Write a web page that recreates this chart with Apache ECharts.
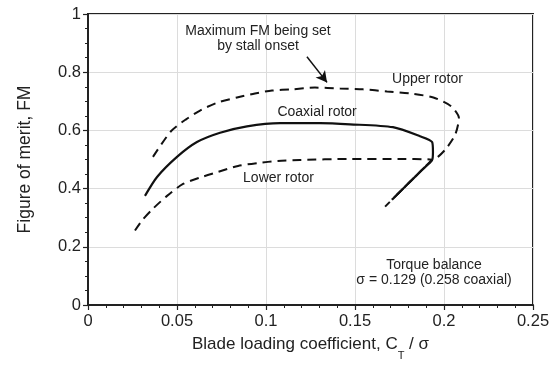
<!DOCTYPE html>
<html><head><meta charset="utf-8">
<script src="https://cdn.jsdelivr.net/npm/echarts@6/dist/echarts.min.js"></script>
<style>html,body{margin:0;padding:0;background:#fff}#c{width:558px;height:366px}</style>
</head><body><div id="c"></div>
<script>
var xTicks = [0, 0.05, 0.1, 0.15, 0.2, 0.25];
var yTicks = [0, 0.2, 0.4, 0.6, 0.8, 1];

var upperX = [0.0365,0.0466,0.0551,0.0640,0.0730,0.0837,0.0938,0.1034,0.1146,0.1275,0.1416,0.1545,0.168,0.181,0.194,0.204,0.2084,0.2062,0.201,0.1966,0.1933,0.1876,0.182,0.1764,0.1708,0.1669];
var upperY = [0.509,0.597,0.638,0.672,0.696,0.713,0.727,0.737,0.741,0.747,0.744,0.741,0.734,0.727,0.713,0.683,0.642,0.584,0.536,0.509,0.498,0.464,0.430,0.396,0.362,0.338];

var coaxX = [0.032,0.0388,0.050,0.0612,0.0742,0.0893,0.1079,0.1303,0.1472,0.1713,0.1865,0.1933,0.1938,0.1933,0.1876,0.182,0.1764,0.1708];
var coaxY = [0.375,0.440,0.509,0.560,0.592,0.614,0.625,0.625,0.621,0.611,0.580,0.560,0.526,0.498,0.464,0.430,0.396,0.362];

var lowerX = [0.0264,0.0303,0.036,0.0444,0.0534,0.064,0.073,0.0843,0.0955,0.1067,0.119,0.147,0.175,0.1933,0.1876,0.182,0.1764,0.1708];
var lowerY = [0.256,0.290,0.328,0.375,0.416,0.440,0.457,0.478,0.488,0.495,0.498,0.502,0.502,0.498,0.464,0.430,0.396,0.362];

var noteTexts = ['Maximum FM being set\nby stall onset', 'Upper rotor', 'Coaxial rotor', 'Lower rotor', 'Torque balance\nσ = 0.129 (0.258 coaxial)'];
var noteX = [0.0955, 0.1907, 0.1287, 0.107, 0.1944];
var noteY = [0.915, 0.775, 0.662, 0.437, 0.1126];

var arrowFrom = [0.123, 0.853];
var arrowTo = [0.1343, 0.765];

function zip(xs, ys){ return xs.map(function(x,i){ return [x, ys[i]]; }); }

var FONT = '"Liberation Sans", Arial, Helvetica, sans-serif';
var chart = echarts.init(document.getElementById('c'), null, {renderer:'canvas'});

var axisCommon = {
  axisLine: {show:true, lineStyle:{color:'#222', width:2}},
  axisTick: {show:true, inside:false, length:5, lineStyle:{color:'#222', width:1.2}},
  splitLine: {show:true, lineStyle:{color:'#dcdcdc', width:1}}
};

var option = {
  backgroundColor:'#fff',
  animation:false,
  grid: {left:88, right:25, top:14, bottom:59, show:true, borderColor:'#222', borderWidth:2, containLabel:false},
  xAxis: Object.assign({}, axisCommon, {
    type:'value', min:0, max:0.25, interval:0.05,
    minorTick:{show:true, splitNumber:5, length:3, lineStyle:{color:'#222', width:1}},
    axisLabel: {color:'#222', fontSize:16.5, fontFamily:FONT, margin:8,
      formatter:function(v){ var i = xTicks.indexOf(+v.toFixed(2)); return i>=0 ? String(xTicks[i]) : ''; }},
    name:'Blade loading coefficient, C{sub|T} / σ',
    nameLocation:'middle', nameGap:31,
    nameTextStyle:{color:'#222', fontSize:17, fontFamily:FONT,
      rich:{sub:{fontSize:11, verticalAlign:'bottom', padding:[0,0,-8,0], fontFamily:FONT, color:'#222'}}}
  }),
  yAxis: Object.assign({}, axisCommon, {
    type:'value', min:0, max:1, interval:0.2,
    minorTick:{show:true, splitNumber:4, length:3, lineStyle:{color:'#222', width:1}},
    axisLabel: {color:'#222', fontSize:16.5, fontFamily:FONT, margin:7,
      formatter:function(v){ var i = yTicks.indexOf(+v.toFixed(1)); return i>=0 ? String(yTicks[i]) : ''; }},
    name:'Figure of merit, FM', nameLocation:'middle', nameGap:54, nameRotate:90,
    nameTextStyle:{color:'#222', fontSize:17.5, fontFamily:FONT}
  }),
  series: [
    {type:'line', name:'Upper rotor', data:zip(upperX, upperY), showSymbol:false, smooth:0.25,
     lineStyle:{color:'#111', width:2, type:[9,6]}, z:3},
    {type:'line', name:'Lower rotor', data:zip(lowerX, lowerY), showSymbol:false, smooth:0.25,
     lineStyle:{color:'#111', width:2, type:[9,6]}, z:3},
    {type:'line', name:'Coaxial rotor', data:zip(coaxX, coaxY), showSymbol:false, smooth:0.25,
     lineStyle:{color:'#111', width:2.2}, z:4,
     markLine:{silent:true, symbol:['none','arrow'], symbolSize:[9,11],
       lineStyle:{color:'#111', width:1.5, type:'solid'}, label:{show:false},
       data:[[{coord:arrowFrom},{coord:arrowTo}]]}},
    {type:'scatter', name:'notes', data:zip(noteX, noteY).map(function(p,i){ return {value:p, label:{formatter:noteTexts[i]}}; }),
     symbolSize:2, itemStyle:{color:'rgba(0,0,0,0)'}, silent:true, z:5,
     label:{show:true, position:'inside', color:'#222', opacity:1, fontSize:14, fontFamily:FONT, lineHeight:15, align:'center', verticalAlign:'middle'}}
  ]
};
chart.setOption(option);
</script></body></html>
